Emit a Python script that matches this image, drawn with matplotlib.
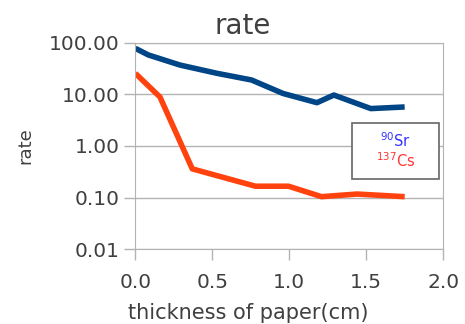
import matplotlib
matplotlib.use("Agg")
import matplotlib.pyplot as plt
from matplotlib.patches import Rectangle
from matplotlib.ticker import FixedLocator, FormatStrFormatter, NullLocator

sr_x = [0.0, 0.085, 0.29, 0.53, 0.755, 0.96, 1.18, 1.29, 1.53, 1.75]
sr_rate = [78, 58, 37, 25.6, 19, 10.4, 6.9, 9.7, 5.3, 5.7]
cs_x = [0.0, 0.16, 0.37, 0.78, 0.995, 1.21, 1.44, 1.75]
cs_rate = [25.6, 8.9, 0.36, 0.166, 0.166, 0.104, 0.117, 0.104]

y_ticks = [0.01, 0.1, 1, 10, 100]
x_ticks = [0.0, 0.5, 1.0, 1.5, 2.0]
names = [r"$^{90}$Sr", r"$^{137}$Cs"]
name_colors = ["#3333ff", "#ff3333"]

txt = "#404040"
gridc = "#b3b3b3"

fig = plt.figure(figsize=(4.65, 3.24), dpi=100)
ax = fig.add_axes([0.291, 0.231, 0.662, 0.637])

ax.plot(sr_x, sr_rate, color="#004586", lw=4, solid_joinstyle="round", solid_capstyle="butt")
ax.plot(cs_x, cs_rate, color="#ff420e", lw=4, solid_joinstyle="round", solid_capstyle="butt")

ax.set_yscale("log")
ax.set_ylim(0.01, 100)
ax.set_xlim(0, 2.0)
ax.yaxis.set_major_locator(FixedLocator(y_ticks))
ax.yaxis.set_minor_locator(NullLocator())
ax.yaxis.set_major_formatter(FormatStrFormatter("%.2f"))
ax.set_xticks(x_ticks)
ax.xaxis.set_major_formatter(FormatStrFormatter("%.1f"))

ax.grid(axis="y", color=gridc, lw=1)
ax.set_axisbelow(True)
for s in ax.spines.values():
    s.set_color(gridc)
ax.tick_params(axis="both", colors=gridc, length=8, width=1, labelcolor=txt, labelsize=14.5)
ax.tick_params(axis="y", pad=3)
ax.tick_params(axis="x", pad=9)

ax.set_title("rate", fontsize=20, color=txt, pad=6, x=0.35)
ax.set_xlabel("thickness of paper(cm)", fontsize=15, color=txt, labelpad=8, x=0.366)
ax.set_ylabel("rate", fontsize=13, color=txt, labelpad=11)

# legend box (no line keys, just coloured names)
ax.add_patch(Rectangle((0.703, 0.339), 0.283, 0.272, transform=ax.transAxes,
                       facecolor="white", edgecolor="#666666", lw=1.2, zorder=5))
for i, (n, c) in enumerate(zip(names, name_colors)):
    ax.text(0.845, 0.525 - i * 0.095, n, transform=ax.transAxes, color=c,
            fontsize=10.5, ha="center", va="center", zorder=6)

fig.savefig("out.png", dpi=100)
